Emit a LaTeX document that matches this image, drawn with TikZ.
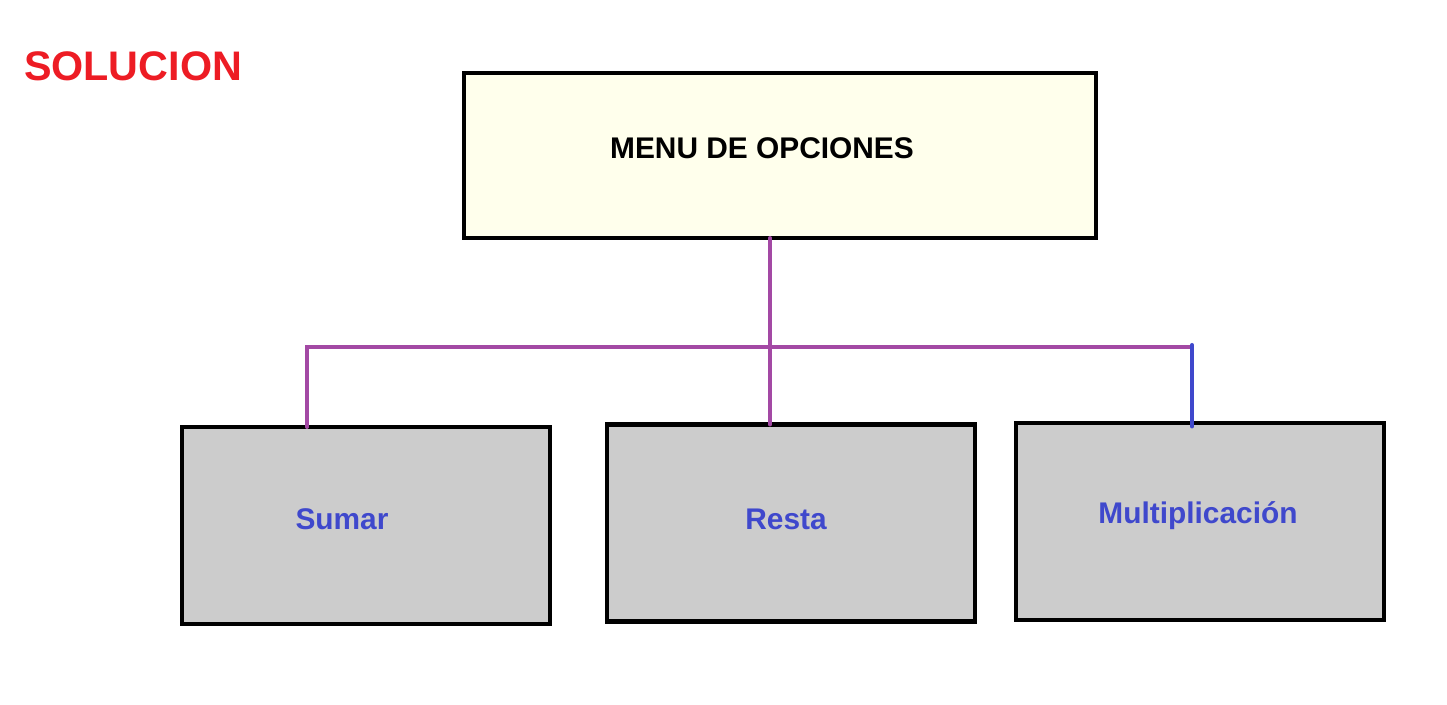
\documentclass[tikz,border=0pt]{standalone}
\usepackage{fontspec}
\setmainfont{Liberation Sans}
\usetikzlibrary{positioning}
\definecolor{solred}{HTML}{ED1C24}
\definecolor{linkpurple}{HTML}{A349A4}
\definecolor{linkblue}{HTML}{3F48CC}
\definecolor{menucream}{HTML}{FFFFEC}
\definecolor{optgray}{HTML}{CCCCCC}
\begin{document}
\begin{tikzpicture}[x=0.02cm, y=-0.02cm,
    menubox/.style={rectangle, draw=black, line width=2.6pt, fill=menucream, minimum width=12.64cm, minimum height=3.3cm, outer sep=0pt, inner sep=0pt},
    optbox/.style={rectangle, draw=black, line width=2.6pt, fill=optgray, minimum width=7.36cm, minimum height=3.94cm, outer sep=0pt, inner sep=0pt},
    menutext/.style={anchor=base, font=\fontsize{17}{20}\selectfont\bfseries, text=black, inner sep=0pt},
    opttext/.style={anchor=base, font=\fontsize{17}{20}\selectfont\bfseries, text=linkblue, inner sep=0pt},
    link/.style={line width=2.2pt, linkpurple, line cap=round}]
        \useasboundingbox (0,0) rectangle (1447,704);
        % Title
        \node[anchor=base, font=\fontsize{23.5}{28}\selectfont\bfseries, text=solred, inner sep=0pt] (title) at (133,80) {SOLUCION};

        % Boxes
        \node[menubox] (menu) at (780,155.5) {};
        \node[optbox] (sumar) at (366,525.5) {};
        \node[optbox] (resta) at (791,523) {};
        \node[optbox] (multi) at (1200,521.5) {};

        % Texts
        \node[menutext] (menutxt) at (762,158) {MENU DE OPCIONES};
        \node[opttext] (sumartxt) at (342,529) {Sumar};
        \node[opttext] (restatxt) at (786,529) {Resta};
        \node[opttext] (multitxt) at (1198,523) {Multiplicación};

        % Branch points
        \coordinate (junction) at (770,347);
        \coordinate (left) at (307,347);
        \coordinate (right) at (1192,347);

        % Connectors
        \draw[link] (menu.south -| junction) -- (resta.north -| junction);
        \draw[link] (sumar.north -| left) -- (left) -- (right);
        \draw[link, linkblue] ([yshift=1.2pt]right) -- ([yshift=-2pt]multi.north -| right);
    \end{tikzpicture}
\end{document}
